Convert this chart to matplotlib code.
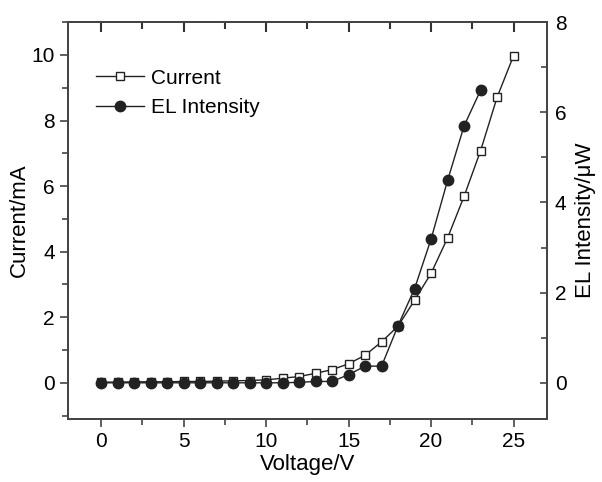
import numpy as np
import matplotlib.pyplot as plt
from matplotlib.ticker import MultipleLocator

plt.rcParams['font.family'] = ['Liberation Sans', 'DejaVu Sans']

voltage = np.arange(0, 26)
current = [0.02, 0.02, 0.03, 0.03, 0.03, 0.04, 0.04, 0.05, 0.06, 0.07, 0.09,
           0.14, 0.19, 0.29, 0.40, 0.58, 0.84, 1.25, 1.73, 2.52, 3.34,
           4.42, 5.69, 7.08, 8.71, 9.98]
el_volt = np.arange(0, 24)
el_intensity = [0, 0, 0, 0, 0, 0, 0, 0, 0, 0, 0,
                0, 0.01, 0.03, 0.03, 0.18, 0.37, 0.37, 1.27, 2.09, 3.19,
                4.49, 5.70, 6.49]

col = '#222222'
spine_col = '#444444'
fig = plt.figure(figsize=(6.02, 4.82), dpi=100)
ax = fig.add_axes([0.113, 0.131, 0.795, 0.823])
ax2 = ax.twinx()

l1, = ax.plot(voltage, current, '-s', color=col, lw=1, ms=6,
              mfc='white', mec=col, mew=1, label='Current')
l2, = ax2.plot(el_volt, el_intensity, '-o', color=col, lw=1, ms=7.5,
               mfc=col, mec=col, label='EL Intensity')

ax.set_xlim(-2, 27)
ax.set_ylim(-1.1, 11)
ax2.set_ylim(-0.8, 8)

ax.xaxis.set_major_locator(MultipleLocator(5))
ax.xaxis.set_minor_locator(MultipleLocator(2.5))
for a in (ax.yaxis, ax2.yaxis):
    a.set_major_locator(MultipleLocator(2))
    a.set_minor_locator(MultipleLocator(1))

for a in (ax, ax2):
    for s in a.spines.values():
        s.set_color(spine_col)
        s.set_linewidth(1.3)

ax.tick_params(axis='both', which='both', direction='out', color=spine_col,
               labelsize=15, width=1.2)
ax.tick_params(axis='both', which='major', length=6)
ax.tick_params(axis='both', which='minor', length=4)
ax2.tick_params(axis='y', which='both', direction='in', color=spine_col,
                labelsize=15, width=1.2, pad=6)
ax2.tick_params(axis='y', which='major', length=5)
ax2.tick_params(axis='y', which='minor', length=4)

# inward ticks along the top spine
sec = ax.secondary_xaxis('top')
sec.xaxis.set_major_locator(MultipleLocator(5))
sec.xaxis.set_minor_locator(MultipleLocator(2.5))
sec.tick_params(axis='x', which='both', direction='in', labeltop=False,
                color='#333333', width=1.5)
sec.tick_params(axis='x', which='major', length=7)
sec.tick_params(axis='x', which='minor', length=5)
sec.spines['top'].set_color(spine_col)
sec.spines['top'].set_linewidth(1.3)

ax.set_xlabel('Voltage/V', fontsize=16, labelpad=2)
ax.set_ylabel('Current/mA', fontsize=16, labelpad=1)
ax2.set_ylabel('EL Intensity/\u03bcW', fontsize=16, labelpad=6)

ax.legend([l1, l2], ['Current', 'EL Intensity'], loc='upper left',
          bbox_to_anchor=(0.02, 0.93), frameon=False, fontsize=15,
          handlelength=2.3, handletextpad=0.3, labelspacing=0.5)

fig.savefig('out.png', dpi=100)
